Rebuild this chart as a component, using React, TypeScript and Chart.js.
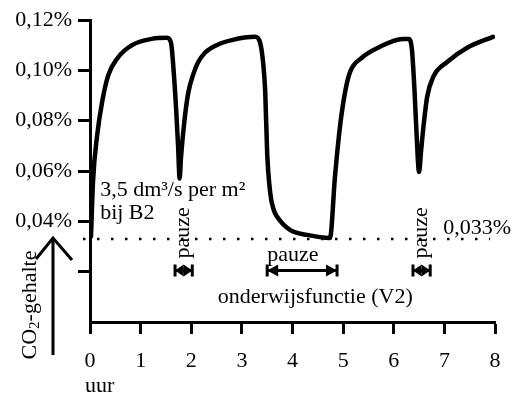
import React, { useEffect, useRef } from "react";
import { Chart, registerables } from "chart.js";

Chart.register(...registerables);

// time in hours
const hours = [
  0.02, 0.06, 0.14, 0.24, 0.36, 0.55, 0.83, 1.22, 1.52, 1.6, 1.64, 1.7, 1.74, 1.77,
  1.8, 1.86, 1.94, 2.05, 2.13, 2.27, 2.5, 2.8, 3.26, 3.36, 3.42, 3.46, 3.5, 3.56, 3.63,
  3.7, 3.95, 4.29, 4.74, 4.84, 4.94, 5.04, 5.14, 5.37, 5.69, 6.18, 6.3, 6.36, 6.41, 6.45,
  6.5, 6.54, 6.58, 6.66, 6.78, 7.06, 7.45, 7.96,
];
// CO2 content in %
const co2 = [
  0.034, 0.056, 0.074, 0.0875, 0.098, 0.105, 0.11, 0.1125, 0.1129, 0.111, 0.103, 0.085, 0.07,
  0.057, 0.066, 0.079, 0.091, 0.099, 0.103, 0.107, 0.11, 0.112, 0.1133, 0.111, 0.103, 0.092,
  0.067, 0.0513, 0.0445, 0.0417, 0.0366, 0.0346, 0.0334, 0.058, 0.078, 0.0915, 0.0995, 0.105,
  0.109, 0.1125, 0.1125, 0.108, 0.092, 0.075, 0.0596, 0.068, 0.0763, 0.0895, 0.0974, 0.1034,
  0.109, 0.1133,
];

const xMin = 0;
const xMax = 8;
const yMin = 0;
const yMax = 0.12;
const yStep = 0.02;
const yLabelFrom = 0.04;

const outdoorLevel = 0.033;
const outdoorLabel = "0,033%";
const pauseStarts = [1.68, 3.5, 6.38];
const pauseEnds = [2.02, 4.88, 6.72];
const pauseLabel = "pauze";
const rateLine1 = "3,5 dm³/s per m²";
const rateLine2 = "bij B2";
const functionLabel = "onderwijsfunctie (V2)";
const xTitle = "uur";
const yTitleA = "CO";
const yTitleSub = "2";
const yTitleB = "-gehalte";

const FONT_FAMILY = '"Liberation Serif", "Times New Roman", serif';
const font22 = `22px ${FONT_FAMILY}`;

function fmtPct(v: number) {
  return v.toFixed(2).replace(".", ",") + "%";
}

function drawPauseArrow(ctx: CanvasRenderingContext2D, xa: number, xb: number, yy: number) {
  const half = 6;
  const h = Math.min(11, (xb - xa) / 2);
  ctx.save();
  ctx.strokeStyle = "#000";
  ctx.fillStyle = "#000";
  ctx.lineWidth = 3;
  ctx.beginPath();
  ctx.moveTo(xa, yy);
  ctx.lineTo(xb, yy);
  ctx.moveTo(xa, yy - half);
  ctx.lineTo(xa, yy + half);
  ctx.moveTo(xb, yy - half);
  ctx.lineTo(xb, yy + half);
  ctx.stroke();
  ctx.beginPath();
  ctx.moveTo(xa, yy);
  ctx.lineTo(xa + h, yy - half);
  ctx.lineTo(xa + h, yy + half);
  ctx.closePath();
  ctx.fill();
  ctx.beginPath();
  ctx.moveTo(xb, yy);
  ctx.lineTo(xb - h, yy - half);
  ctx.lineTo(xb - h, yy + half);
  ctx.closePath();
  ctx.fill();
  ctx.restore();
}

const annotations = {
  id: "annotations",
  beforeDatasetsDraw(chart: any) {
    const { ctx, chartArea, scales } = chart;
    const y0 = scales.y.getPixelForValue(outdoorLevel);
    ctx.save();
    ctx.strokeStyle = "#000";
    ctx.lineWidth = 2.5;
    ctx.setLineDash([2.5, 11.5]);
    ctx.beginPath();
    ctx.moveTo(chartArea.left - 7, y0);
    ctx.lineTo(scales.x.getPixelForValue(7.9), y0);
    ctx.stroke();
    ctx.restore();
  },
  afterDraw(chart: any) {
    const { ctx, chartArea, scales } = chart;
    const x = scales.x;
    const y = scales.y;
    ctx.save();
    ctx.fillStyle = "#000";
    ctx.strokeStyle = "#000";
    ctx.font = font22;
    ctx.textBaseline = "middle";
    ctx.textAlign = "left";

    // rate text
    ctx.fillText(rateLine1, x.getPixelForValue(0.2), y.getPixelForValue(0.0525));
    ctx.fillText(rateLine2, x.getPixelForValue(0.2), y.getPixelForValue(0.0433));

    // outdoor label
    ctx.fillText(outdoorLabel, x.getPixelForValue(6.98), y.getPixelForValue(0.0372));

    // pauses
    const arrowY = y.getPixelForValue(0.0205);
    for (let i = 0; i < pauseStarts.length; i++) {
      const xa = x.getPixelForValue(pauseStarts[i]);
      const xb = x.getPixelForValue(pauseEnds[i]);
      drawPauseArrow(ctx, xa, xb, arrowY);
      if (xb - xa > 40) {
        ctx.textAlign = "left";
        ctx.fillText(pauseLabel, xa, y.getPixelForValue(0.0266));
      } else {
        ctx.save();
        ctx.translate((xa + xb) / 2, y.getPixelForValue(0.0354));
        ctx.rotate(-Math.PI / 2);
        ctx.textAlign = "center";
        ctx.fillText(pauseLabel, 0, 0);
        ctx.restore();
      }
    }

    // function label
    ctx.textAlign = "center";
    ctx.fillText(functionLabel, x.getPixelForValue(4.45), y.getPixelForValue(0.0099));

    // x title
    ctx.textAlign = "left";
    ctx.fillText(xTitle, chartArea.left - 5, chartArea.bottom + 64);

    // y title rotated
    ctx.save();
    ctx.translate(30, 305);
    ctx.rotate(-Math.PI / 2);
    const subFont = `15px ${FONT_FAMILY}`;
    const wA = ctx.measureText(yTitleA).width;
    ctx.font = subFont;
    const wS = ctx.measureText(yTitleSub).width;
    ctx.font = font22;
    const wB = ctx.measureText(yTitleB).width;
    let cx = -(wA + wS + wB) / 2;
    ctx.textAlign = "left";
    ctx.fillText(yTitleA, cx, 0);
    cx += wA;
    ctx.font = subFont;
    ctx.fillText(yTitleSub, cx, 5);
    cx += wS;
    ctx.font = font22;
    ctx.fillText(yTitleB, cx, 0);
    ctx.restore();

    // big arrow
    ctx.lineWidth = 3;
    ctx.lineCap = "butt";
    ctx.beginPath();
    ctx.moveTo(53, 355);
    ctx.lineTo(53, 239);
    ctx.moveTo(36, 259);
    ctx.lineTo(53, 238);
    ctx.lineTo(72, 260);
    ctx.stroke();

    ctx.restore();
  },
};

export default function App() {
  const ref = useRef<HTMLCanvasElement>(null);
  useEffect(() => {
    document.body.style.margin = "0";
    const canvas = ref.current!;
    const chart = new Chart(canvas, {
      type: "line",
      data: {
        datasets: [
          {
            data: hours.map((h, i) => ({ x: h, y: co2[i] })),
            borderColor: "#000",
            borderWidth: 4.5,
            pointRadius: 0,
            cubicInterpolationMode: "monotone",
            fill: false,
            borderJoinStyle: "round",
            borderCapStyle: "round",
          } as any,
        ],
      },
      options: {
        responsive: false,
        animation: false,
        devicePixelRatio: 1,
        layout: { padding: { top: 20, right: 25, left: 0, bottom: 0 } },
        plugins: { legend: { display: false }, tooltip: { enabled: false } },
        scales: {
          x: {
            type: "linear",
            min: xMin,
            max: xMax,
            ticks: {
              stepSize: 1,
              color: "#000",
              font: { family: FONT_FAMILY, size: 22 },
              padding: 14,
              maxRotation: 0,
              autoSkip: false,
            },
            grid: { drawOnChartArea: false, tickLength: 12, tickWidth: 3, tickColor: "#000" },
            border: { color: "#000", width: 3 },
            afterFit: (s: any) => {
              s.height = 72;
            },
          },
          y: {
            type: "linear",
            min: yMin,
            max: yMax,
            ticks: {
              stepSize: yStep,
              color: "#000",
              font: { family: FONT_FAMILY, size: 22 },
              padding: 6,
              callback: (v: any) => {
                const n = Math.round(Number(v) * 100) / 100;
                return n >= yLabelFrom - 1e-9 ? fmtPct(n) : "";
              },
            },
            grid: {
              drawOnChartArea: false,
              tickLength: 12,
              tickWidth: 3,
              tickColor: (c: any) => (c.tick && Math.abs(c.tick.value) < 1e-9 ? "rgba(0,0,0,0)" : "#000"),
            },
            border: { color: "#000", width: 3 },
            afterFit: (s: any) => {
              s.width = 90;
            },
          },
        },
      },
      plugins: [annotations],
    });
    return () => chart.destroy();
  }, []);
  return <canvas ref={ref} width={520} height={394} style={{ display: "block" }} />;
}
